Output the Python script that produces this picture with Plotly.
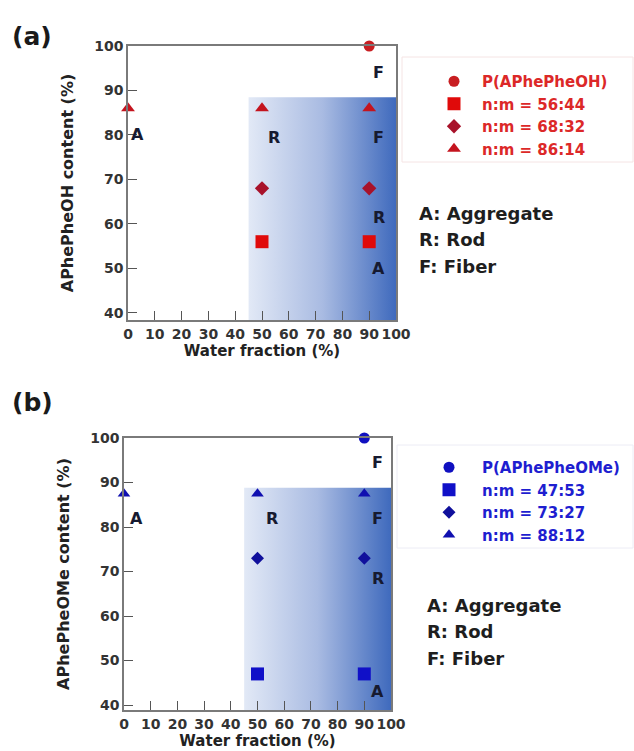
import plotly.graph_objects as go

W, H = 634, 751

# ---------------- data ----------------
# panel (a)  P(APhePheOH) series
a_names = ["P(APhePheOH)", "n:m = 56:44", "n:m = 68:32", "n:m = 86:14"]
a_water = [[90], [50, 90], [50, 90], [0, 50, 90]]
a_content = [[100], [56, 56], [68, 68], [86, 86, 86]]
a_phase_x = [45, 100]
a_phase_top = 88.5
a_lab_text = ["A", "R", "F", "F", "R", "A"]
a_lab_x = [3.6, 54.5, 93.5, 93.5, 93.5, 93.5]
a_lab_y = [80, 79.5, 94, 79.5, 61.5, 50]

# panel (b)  P(APhePheOMe) series
b_names = ["P(APhePheOMe)", "n:m = 47:53", "n:m = 73:27", "n:m = 88:12"]
b_water = [[90], [50, 90], [50, 90], [0, 50, 90]]
b_content = [[100], [47, 47], [73, 73], [87.5, 87.5, 87.5]]
b_phase_x = [45, 100]
b_phase_top = 88.8
b_lab_text = ["A", "R", "F", "F", "R", "A"]
b_lab_x = [4.5, 55.5, 95, 95, 95, 95]
b_lab_y = [82, 82, 94.6, 82, 68.5, 43]

key_text = ["A: Aggregate", "R: Rod", "F: Fiber"]
x_ticks = list(range(0, 101, 10))
y_ticks = list(range(40, 101, 10))

# ---------------- style ----------------
FONT = "DejaVu Sans"
symbols = ["circle", "square", "diamond", "triangle-up"]
a_colors = ["#c81e22", "#e00a0a", "#a8122a", "#c4141e"]
a_sizes = [11, 13, 11, 12]
b_colors = ["#1010c0", "#1010c8", "#10109c", "#1010b0"]
b_sizes = [11, 13, 10, 11]
grad = [[0, "#e2e9f6"], [0.5, "#a9bbe2"], [1, "#3f6abd"]]

fig = go.Figure()


def px_x(p):
    return p / W


def px_y(p):
    return 1 - p / H


def add_panel(xa, ya, names, water, content, colors, sizes, legend,
              phase_x, phase_top, ymin):
    # gradient phase region
    fig.add_trace(go.Scatter(
        x=[phase_x[0], phase_x[1], phase_x[1], phase_x[0], phase_x[0]],
        y=[ymin, ymin, phase_top, phase_top, ymin],
        mode="lines", line=dict(width=0), fill="toself",
        fillgradient=dict(type="horizontal", colorscale=grad,
                          start=phase_x[0], stop=phase_x[1]),
        showlegend=False, hoverinfo="skip", xaxis=xa, yaxis=ya))
    for n, xs, ys, s, c, sz in zip(names, water, content, symbols, colors, sizes):
        fig.add_trace(go.Scatter(
            x=xs, y=ys, mode="markers", name=n,
            marker=dict(symbol=s, color=c, size=sz, line=dict(width=0)),
            cliponaxis=False, legend=legend, xaxis=xa, yaxis=ya))


A_YMIN = 38.4
B_YMIN = 38.9
add_panel("x", "y", a_names, a_water, a_content, a_colors, a_sizes, "legend",
          a_phase_x, a_phase_top, A_YMIN)
add_panel("x2", "y2", b_names, b_water, b_content, b_colors, b_sizes, "legend2",
          b_phase_x, b_phase_top, B_YMIN)

tickfont = dict(family=FONT, size=14, color="#333333", weight="bold")
titlefont = dict(family=FONT, size=15, color="#222222", weight="bold")
common_x = dict(range=[0, 100], tickmode="array", tickvals=x_ticks, tickangle=0,
                ticks="inside", ticklen=9, tickcolor="#555555", tickwidth=1,
                showline=True, linecolor="#7a7a7a", linewidth=1.5, mirror=True,
                showgrid=False, zeroline=False, tickfont=tickfont, automargin=False)
common_y = dict(tickmode="array", tickvals=y_ticks,
                ticks="inside", ticklen=9, tickcolor="#555555", tickwidth=1,
                showline=True, linecolor="#7a7a7a", linewidth=1.5, mirror=True,
                showgrid=False, zeroline=False, tickfont=tickfont, automargin=False)

fig.update_layout(
    width=W, height=H, autosize=False,
    margin=dict(l=0, r=0, t=0, b=0),
    paper_bgcolor="white", plot_bgcolor="white",
    xaxis=dict(common_x, domain=[px_x(128), px_x(396)], anchor="y",
               title=dict(text="Water fraction (%)", font=titlefont, standoff=2)),
    yaxis=dict(common_y, domain=[px_y(320), px_y(46)], anchor="x",
               range=[A_YMIN, 100],
               title=dict(text="APhePheOH content (%)", font=dict(titlefont, size=16),
                          standoff=17)),
    xaxis2=dict(common_x, domain=[px_x(124), px_x(391)], anchor="y2",
                title=dict(text="Water fraction (%)", font=titlefont, standoff=0)),
    yaxis2=dict(common_y, domain=[px_y(710), px_y(438)], anchor="x2",
                range=[B_YMIN, 100],
                title=dict(text="APhePheOMe content (%)", font=dict(titlefont, size=16),
                           standoff=17)),
    legend=dict(x=px_x(426), y=px_y(65), xanchor="left", yanchor="top",
                bgcolor="rgba(0,0,0,0)", borderwidth=0, itemwidth=46,
                font=dict(family=FONT, size=15, color="#dc2828", weight="bold"),
                tracegroupgap=0, itemsizing="trace"),
    legend2=dict(x=px_x(416), y=px_y(451), xanchor="left", yanchor="top",
                 bgcolor="rgba(0,0,0,0)", borderwidth=0, itemwidth=56,
                 font=dict(family=FONT, size=15, color="#1e1ed0", weight="bold"),
                 tracegroupgap=0, itemsizing="trace"),
)

# legend frames
fig.add_shape(type="rect", xref="paper", yref="paper",
              x0=px_x(402), x1=px_x(633), y0=px_y(162), y1=px_y(57),
              line=dict(color="#f5e4e4", width=1), fillcolor="rgba(0,0,0,0)")
fig.add_shape(type="rect", xref="paper", yref="paper",
              x0=px_x(397), x1=px_x(633), y0=px_y(548), y1=px_y(445),
              line=dict(color="#ececf5", width=1), fillcolor="rgba(0,0,0,0)")

# phase letters
letfont = dict(family=FONT, size=16, color="#161a30", weight="bold")
for t, x, y in zip(a_lab_text, a_lab_x, a_lab_y):
    fig.add_annotation(x=x, y=y, xref="x", yref="y", text=t, showarrow=False,
                       font=letfont)
for t, x, y in zip(b_lab_text, b_lab_x, b_lab_y):
    fig.add_annotation(x=x, y=y, xref="x2", yref="y2", text=t, showarrow=False,
                       font=letfont)

# key text
keyfont = dict(family=FONT, size=18, color="#1e1e1e", weight="bold")
for i, t in enumerate(key_text):
    fig.add_annotation(x=px_x(417), y=px_y(213 + 26.5 * i), xref="paper", yref="paper",
                       text=t, showarrow=False, xanchor="left", yanchor="middle",
                       font=keyfont)
    fig.add_annotation(x=px_x(425), y=px_y(605 + 26.5 * i), xref="paper", yref="paper",
                       text=t, showarrow=False, xanchor="left", yanchor="middle",
                       font=keyfont)

# panel labels
panfont = dict(family=FONT, size=25, color="#1a1a1a", weight="bold")
fig.add_annotation(x=px_x(10), y=px_y(37), xref="paper", yref="paper", text="(a)",
                   showarrow=False, xanchor="left", yanchor="middle", font=panfont)
fig.add_annotation(x=px_x(10), y=px_y(402), xref="paper", yref="paper", text="(b)",
                   showarrow=False, xanchor="left", yanchor="middle", font=panfont)

fig.write_html("out.html", config={"displayModeBar": False},
               post_script="document.body.style.margin='0';document.body.style.padding='0';")
